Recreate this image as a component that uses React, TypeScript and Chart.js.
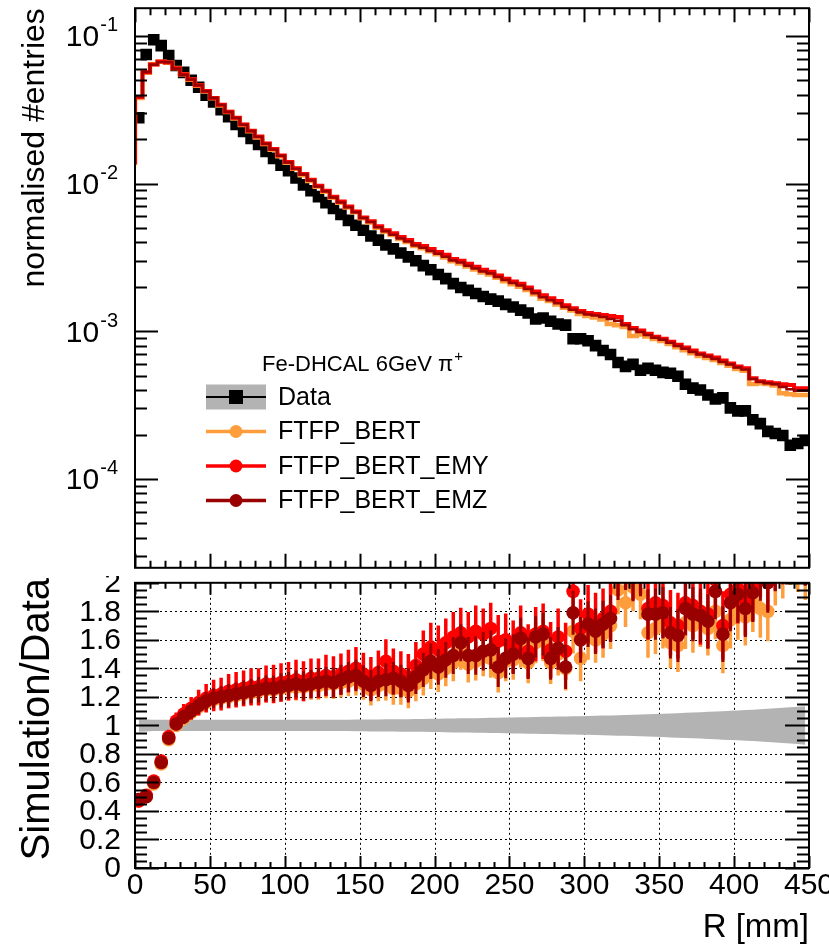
import React, { useEffect, useRef } from "react";
import { Chart, registerables } from "chart.js";
Chart.register(...registerables);

const FONT = '"Liberation Sans", Arial, Helvetica, sans-serif';
const ORANGE = "#fd9d3b";
const RED = "#ff0000";
const DARKRED = "#990000";
const GRAY = "#b3b3b3";

// ---------------- data ----------------
const BIN_WIDTH = 5; // mm
const R_MIN = 0;
const R_MAX = 450;

const dataValues = [
  2.79e-2, 7.47e-2, 9.4e-2, 8.58e-2, 7.35e-2, 6.3e-2, 5.66e-2, 5.0e-2, 4.49e-2, 3.97e-2,
  3.57e-2, 3.16e-2, 2.83e-2, 2.51e-2, 2.25e-2, 2.02e-2, 1.84e-2, 1.65e-2, 1.48e-2, 1.33e-2,
  1.22e-2, 1.09e-2, 9.8e-3, 8.94e-3, 8.15e-3, 7.43e-3, 6.78e-3, 6.18e-3, 5.63e-3, 5.22e-3,
  4.83e-3, 4.41e-3, 4.14e-3, 3.84e-3, 3.61e-3, 3.39e-3, 3.19e-3, 3.0e-3, 2.78e-3, 2.61e-3,
  2.42e-3, 2.27e-3, 2.1e-3, 1.98e-3, 1.89e-3, 1.8e-3, 1.72e-3, 1.65e-3, 1.6e-3, 1.52e-3,
  1.46e-3, 1.39e-3, 1.33e-3, 1.21e-3, 1.23e-3, 1.17e-3, 1.12e-3, 1.1e-3, 8.9e-4, 8.9e-4,
  8.63e-4, 7.99e-4, 7.4e-4, 6.96e-4, 6.15e-4, 5.78e-4, 5.97e-4, 5.44e-4, 5.61e-4, 5.44e-4,
  5.27e-4, 5.19e-4, 4.96e-4, 4.38e-4, 4.12e-4, 4.0e-4, 3.7e-4, 3.48e-4, 3.54e-4, 3.03e-4,
  2.89e-4, 2.89e-4, 2.52e-4, 2.37e-4, 2.1e-4, 2.03e-4, 1.97e-4, 1.69e-4, 1.74e-4, 1.82e-4,
];

const bertValues = [
  1.33e-2, 3.8e-2, 5.62e-2, 6.42e-2, 6.68e-2, 6.58e-2, 6.05e-2, 5.5e-2, 5.05e-2, 4.6e-2,
  4.2e-2, 3.78e-2, 3.38e-2, 3.05e-2, 2.76e-2, 2.49e-2, 2.26e-2, 2.05e-2, 1.85e-2, 1.69e-2,
  1.53e-2, 1.38e-2, 1.26e-2, 1.14e-2, 1.04e-2, 9.5e-3, 8.8e-3, 8.02e-3, 7.42e-3, 6.88e-3,
  6.38e-3, 5.82e-3, 5.44e-3, 5.02e-3, 4.72e-3, 4.48e-3, 4.22e-3, 4.02e-3, 3.78e-3, 3.64e-3,
  3.48e-3, 3.32e-3, 3.16e-3, 2.98e-3, 2.88e-3, 2.74e-3, 2.62e-3, 2.5e-3, 2.42e-3, 2.3e-3,
  2.18e-3, 2.08e-3, 2.0e-3, 1.9e-3, 1.78e-3, 1.66e-3, 1.6e-3, 1.52e-3, 1.44e-3, 1.38e-3,
  1.31e-3, 1.27e-3, 1.24e-3, 1.2e-3, 1.12e-3, 1.1e-3, 1.07e-3, 9.3e-4, 9.5e-4, 9.2e-4,
  8.85e-4, 8.6e-4, 8.2e-4, 7.8e-4, 7.45e-4, 7.1e-4, 6.8e-4, 6.6e-4, 6.4e-4, 6.1e-4,
  5.85e-4, 5.55e-4, 5.4e-4, 4.4e-4, 4.45e-4, 4.4e-4, 4.3e-4, 3.8e-4, 3.75e-4, 3.7e-4,
];

const emyValues = [
  1.35e-2, 3.85e-2, 5.66e-2, 6.4e-2, 6.7e-2, 6.6e-2, 6.02e-2, 5.49e-2, 5.08e-2, 4.63e-2,
  4.23e-2, 3.8e-2, 3.41e-2, 3.06e-2, 2.79e-2, 2.51e-2, 2.28e-2, 2.08e-2, 1.87e-2, 1.71e-2,
  1.55e-2, 1.4e-2, 1.27e-2, 1.16e-2, 1.06e-2, 9.65e-3, 8.94e-3, 8.15e-3, 7.55e-3, 6.99e-3,
  6.47e-3, 5.9e-3, 5.55e-3, 5.14e-3, 4.83e-3, 4.61e-3, 4.34e-3, 4.14e-3, 3.9e-3, 3.78e-3,
  3.61e-3, 3.44e-3, 3.29e-3, 3.09e-3, 3.0e-3, 2.86e-3, 2.73e-3, 2.61e-3, 2.53e-3, 2.38e-3,
  2.27e-3, 2.17e-3, 2.1e-3, 1.98e-3, 1.86e-3, 1.75e-3, 1.67e-3, 1.6e-3, 1.5e-3, 1.43e-3,
  1.37e-3, 1.33e-3, 1.31e-3, 1.29e-3, 1.27e-3, 1.25e-3, 1.12e-3, 1.05e-3, 1.01e-3, 9.61e-4,
  9.18e-4, 8.9e-4, 8.5e-4, 8.11e-4, 7.75e-4, 7.4e-4, 7.06e-4, 6.85e-4, 6.64e-4, 6.34e-4,
  6.06e-4, 5.78e-4, 5.61e-4, 4.81e-4, 4.59e-4, 4.52e-4, 4.45e-4, 4.38e-4, 4.32e-4, 4.12e-4,
];

const emzValues = [
  1.36e-2, 3.88e-2, 5.7e-2, 6.38e-2, 6.66e-2, 6.62e-2, 6.0e-2, 5.46e-2, 5.06e-2, 4.62e-2,
  4.22e-2, 3.79e-2, 3.4e-2, 3.05e-2, 2.78e-2, 2.5e-2, 2.27e-2, 2.07e-2, 1.86e-2, 1.7e-2,
  1.54e-2, 1.39e-2, 1.26e-2, 1.15e-2, 1.05e-2, 9.55e-3, 8.85e-3, 8.05e-3, 7.45e-3, 6.9e-3,
  6.4e-3, 5.85e-3, 5.48e-3, 5.05e-3, 4.75e-3, 4.5e-3, 4.25e-3, 4.05e-3, 3.8e-3, 3.67e-3,
  3.5e-3, 3.35e-3, 3.2e-3, 3.01e-3, 2.92e-3, 2.78e-3, 2.66e-3, 2.54e-3, 2.46e-3, 2.33e-3,
  2.22e-3, 2.12e-3, 2.04e-3, 1.93e-3, 1.81e-3, 1.7e-3, 1.62e-3, 1.55e-3, 1.46e-3, 1.4e-3,
  1.34e-3, 1.3e-3, 1.28e-3, 1.25e-3, 1.21e-3, 1.18e-3, 1.1e-3, 1.03e-3, 9.9e-4, 9.45e-4,
  9.05e-4, 8.75e-4, 8.35e-4, 7.95e-4, 7.6e-4, 7.25e-4, 6.95e-4, 6.75e-4, 6.5e-4, 6.2e-4,
  5.95e-4, 5.68e-4, 5.5e-4, 4.75e-4, 4.55e-4, 4.45e-4, 4.38e-4, 4.2e-4, 4.05e-4, 3.95e-4,
];

const ratioBert = [
  0.47, 0.5, 0.59, 0.73, 0.9, 1.0, 1.05, 1.09, 1.13, 1.16,
  1.18, 1.19, 1.2, 1.21, 1.22, 1.23, 1.24, 1.25, 1.25, 1.26,
  1.27, 1.27, 1.27, 1.28, 1.28, 1.29, 1.29, 1.3, 1.31, 1.32,
  1.29, 1.25, 1.28, 1.29, 1.26, 1.26, 1.24, 1.29, 1.33, 1.38,
  1.36, 1.4, 1.44, 1.52, 1.43, 1.45, 1.48, 1.47, 1.37, 1.45,
  1.46, 1.55, 1.44, 1.58, 1.6, 1.44, 1.5, 1.4, 1.66, 1.47,
  1.62, 1.6, 1.64, 1.7, 1.95, 1.86, 1.97, 1.92, 1.65, 1.68,
  1.72, 1.58, 1.56, 1.72, 1.7, 1.74, 1.68, 1.8, 1.56, 1.74,
  1.8, 1.76, 1.86, 1.82, 1.8, 2.05, 2.1, 2.2, 2.15, 2.1,
];

const ratioEmy = [
  0.47, 0.51, 0.61, 0.75, 0.92, 1.03, 1.08, 1.12, 1.16, 1.19,
  1.21, 1.22, 1.24, 1.25, 1.26, 1.27, 1.27, 1.29, 1.29, 1.3,
  1.31, 1.32, 1.31, 1.33, 1.33, 1.35, 1.34, 1.36, 1.38, 1.4,
  1.36, 1.33, 1.37, 1.45, 1.38, 1.36, 1.34, 1.42, 1.5, 1.55,
  1.53, 1.58, 1.62, 1.65, 1.62, 1.66, 1.64, 1.68, 1.59, 1.6,
  1.55, 1.65, 1.52, 1.64, 1.66, 1.53, 1.62, 1.52, 1.94, 1.68,
  1.78, 1.72, 1.75, 1.8, 2.12, 2.18, 2.1, 2.14, 1.82, 1.86,
  1.84, 1.72, 1.7, 1.86, 1.84, 1.8, 1.78, 2.02, 1.7, 1.92,
  1.96, 1.88, 1.98, 2.15, 2.06, 2.2, 2.25, 2.35, 2.3, 2.25,
];

const ratioEmz = [
  0.48, 0.5, 0.6, 0.74, 0.91, 1.01, 1.06, 1.1, 1.14, 1.17,
  1.19, 1.2, 1.21, 1.22, 1.23, 1.24, 1.25, 1.26, 1.26, 1.27,
  1.28, 1.29, 1.28, 1.29, 1.3, 1.31, 1.3, 1.32, 1.34, 1.35,
  1.31, 1.28, 1.31, 1.32, 1.33, 1.31, 1.28, 1.34, 1.39, 1.45,
  1.41, 1.46, 1.49, 1.58, 1.49, 1.49, 1.52, 1.53, 1.41, 1.47,
  1.5, 1.61, 1.47, 1.62, 1.64, 1.47, 1.54, 1.41, 1.79, 1.6,
  1.71, 1.66, 1.71, 1.75, 2.05, 2.12, 2.04, 2.08, 1.78, 1.78,
  1.79, 1.65, 1.63, 1.82, 1.78, 1.77, 1.73, 1.94, 1.64, 1.86,
  1.92, 1.82, 1.93, 2.08, 2.0, 2.15, 2.2, 2.3, 2.25, 2.2,
];

const ratioErrEmy = [
  0.02, 0.02, 0.025, 0.035, 0.05, 0.06, 0.07, 0.08, 0.09, 0.1,
  0.11, 0.115, 0.12, 0.125, 0.125, 0.13, 0.13, 0.13, 0.135, 0.135,
  0.135, 0.14, 0.14, 0.14, 0.14, 0.145, 0.145, 0.145, 0.15, 0.15,
  0.15, 0.15, 0.155, 0.155, 0.16, 0.16, 0.16, 0.165, 0.165, 0.17,
  0.17, 0.17, 0.175, 0.175, 0.175, 0.18, 0.18, 0.18, 0.185, 0.185,
  0.185, 0.19, 0.19, 0.19, 0.195, 0.195, 0.2, 0.2, 0.2, 0.205,
  0.205, 0.21, 0.21, 0.21, 0.215, 0.215, 0.22, 0.22, 0.22, 0.225,
  0.225, 0.23, 0.23, 0.23, 0.235, 0.235, 0.24, 0.24, 0.24, 0.245,
  0.245, 0.25, 0.25, 0.25, 0.255, 0.255, 0.26, 0.26, 0.26, 0.265,
];

const ratioErrOther = [
  0.015, 0.015, 0.02, 0.025, 0.035, 0.045, 0.05, 0.055, 0.06, 0.065,
  0.07, 0.075, 0.08, 0.08, 0.085, 0.085, 0.09, 0.09, 0.09, 0.095,
  0.095, 0.095, 0.1, 0.1, 0.1, 0.1, 0.105, 0.105, 0.105, 0.11,
  0.11, 0.11, 0.11, 0.115, 0.115, 0.115, 0.12, 0.12, 0.12, 0.125,
  0.125, 0.125, 0.13, 0.13, 0.13, 0.135, 0.135, 0.135, 0.14, 0.14,
  0.14, 0.145, 0.145, 0.145, 0.15, 0.15, 0.15, 0.155, 0.155, 0.16,
  0.16, 0.16, 0.165, 0.165, 0.17, 0.17, 0.17, 0.175, 0.175, 0.18,
  0.18, 0.18, 0.185, 0.185, 0.19, 0.19, 0.19, 0.195, 0.195, 0.2,
  0.2, 0.2, 0.205, 0.205, 0.21, 0.21, 0.21, 0.215, 0.215, 0.22,
];

const dataRelErr = [
  0.045, 0.042, 0.04, 0.04, 0.04, 0.04, 0.04, 0.04, 0.04, 0.04,
  0.04, 0.04, 0.04, 0.04, 0.04, 0.04, 0.04, 0.04, 0.04, 0.04,
  0.04, 0.04, 0.04, 0.04, 0.04, 0.04, 0.04, 0.04, 0.04, 0.041,
  0.041, 0.042, 0.042, 0.043, 0.043, 0.044, 0.044, 0.045, 0.045, 0.046,
  0.047, 0.048, 0.049, 0.05, 0.05, 0.051, 0.052, 0.053, 0.054, 0.055,
  0.056, 0.057, 0.058, 0.059, 0.06, 0.061, 0.062, 0.063, 0.064, 0.065,
  0.066, 0.067, 0.069, 0.07, 0.072, 0.073, 0.075, 0.076, 0.078, 0.08,
  0.082, 0.084, 0.086, 0.088, 0.09, 0.092, 0.095, 0.097, 0.1, 0.102,
  0.105, 0.108, 0.11, 0.113, 0.116, 0.12, 0.123, 0.127, 0.131, 0.135,
];

const xTickValues = [0, 50, 100, 150, 200, 250, 300, 350, 400, 450];
const xTickLabels = ["0", "50", "100", "150", "200", "250", "300", "350", "400", "450"];
const logTickValues = [1e-4, 1e-3, 1e-2, 1e-1];
const logTickExponents = ["-4", "-3", "-2", "-1"];
const ratioTickValues = [0, 0.2, 0.4, 0.6, 0.8, 1, 1.2, 1.4, 1.6, 1.8, 2];
const ratioTickLabels = ["0", "0.2", "0.4", "0.6", "0.8", "1", "1.2", "1.4", "1.6", "1.8", "2"];

const LOG_MIN = 2.504e-5;
const LOG_MAX = 0.1538;

// ---------------- helpers ----------------
const binLow = dataValues.map((_, i) => R_MIN + i * BIN_WIDTH);
const binCenter = binLow.map((v) => v + BIN_WIDTH / 2);
const stepSeries = (vals: number[]) => [
  ...vals.map((v, i) => ({ x: binLow[i], y: v })),
  { x: binLow[vals.length - 1] + BIN_WIDTH, y: vals[vals.length - 1] },
];
const pointSeries = (vals: number[]) => vals.map((v, i) => ({ x: binCenter[i], y: v }));

function drawXTicks(ctx: CanvasRenderingContext2D, chart: any, major: number, minor: number) {
  const a = chart.chartArea;
  const x = chart.scales.x;
  ctx.beginPath();
  for (let v = R_MIN; v <= R_MAX + 1e-6; v += 10) {
    const px = Math.round(x.getPixelForValue(v)) + 0.5;
    const len = v % 50 === 0 ? major : minor;
    ctx.moveTo(px, a.bottom);
    ctx.lineTo(px, a.bottom - len);
    ctx.moveTo(px, a.top);
    ctx.lineTo(px, a.top + len);
  }
  ctx.stroke();
}

function drawYTicks(ctx: CanvasRenderingContext2D, chart: any, vals: { v: number; major: boolean }[], major: number, minor: number) {
  const a = chart.chartArea;
  const y = chart.scales.y;
  ctx.beginPath();
  vals.forEach(({ v, major: isMajor }) => {
    const py = Math.round(y.getPixelForValue(v)) + 0.5;
    if (py < a.top - 0.5 || py > a.bottom + 0.5) return;
    const len = isMajor ? major : minor;
    ctx.moveTo(a.left, py);
    ctx.lineTo(a.left + len, py);
    ctx.moveTo(a.right, py);
    ctx.lineTo(a.right - len, py);
  });
  ctx.stroke();
}

function drawFrame(ctx: CanvasRenderingContext2D, chart: any) {
  const a = chart.chartArea;
  ctx.strokeRect(a.left, a.top, a.right - a.left, a.bottom - a.top);
}

const errorBarPlugin = {
  id: "errorBars",
  beforeDatasetDraw(chart: any, args: any) {
    const ds = chart.data.datasets[args.index];
    if (!ds.errors) return;
    const { ctx, chartArea: a } = chart;
    const y = chart.scales.y;
    ctx.save();
    ctx.beginPath();
    ctx.rect(a.left, a.top, a.right - a.left, a.bottom - a.top);
    ctx.clip();
    ctx.strokeStyle = ds.errorColor;
    ctx.lineWidth = ds.errorWidth;
    args.meta.data.forEach((pt: any, i: number) => {
      const v = ds.data[i].y;
      const e = ds.errors[i];
      ctx.beginPath();
      ctx.moveTo(pt.x, y.getPixelForValue(v - e));
      ctx.lineTo(pt.x, y.getPixelForValue(v + e));
      ctx.stroke();
    });
    ctx.restore();
  },
};

const topDecor = {
  id: "topDecor",
  afterDraw(chart: any) {
    const { ctx, chartArea: a } = chart;
    const y = chart.scales.y;
    ctx.save();
    ctx.strokeStyle = "#000";
    ctx.lineWidth = 2;
    drawXTicks(ctx, chart, 14, 7);
    const logTicks: { v: number; major: boolean }[] = [];
    for (let e = -5; e <= 0; e++) {
      for (let k = 1; k <= 9; k++) {
        const v = k * Math.pow(10, e);
        if (v >= LOG_MIN && v <= LOG_MAX) logTicks.push({ v, major: k === 1 });
      }
    }
    drawYTicks(ctx, chart, logTicks, 23, 12);
    drawFrame(ctx, chart);

    // tick labels 10^n
    ctx.fillStyle = "#000";
    ctx.textBaseline = "middle";
    logTickValues.forEach((v, i) => {
      const py = y.getPixelForValue(v);
      ctx.font = `20px ${FONT}`;
      const we = ctx.measureText(logTickExponents[i]).width;
      ctx.font = `30px ${FONT}`;
      const wb = ctx.measureText("10").width;
      const right = 118;
      ctx.textAlign = "left";
      ctx.fillText("10", right - we - wb - 1, py + 2);
      ctx.font = `20px ${FONT}`;
      ctx.fillText(logTickExponents[i], right - we, py - 10);
    });

    // y title
    ctx.save();
    ctx.translate(44, a.top);
    ctx.rotate(-Math.PI / 2);
    ctx.font = `32px ${FONT}`;
    ctx.textAlign = "right";
    ctx.textBaseline = "alphabetic";
    ctx.fillText("normalised #entries", 0, 0);
    ctx.restore();

    // legend
    ctx.textAlign = "left";
    ctx.textBaseline = "middle";
    ctx.font = `22px ${FONT}`;
    const header = "Fe-DHCAL 6GeV \u03c0";
    ctx.fillText(header, 262, 365);
    const hw = ctx.measureText(header).width;
    ctx.font = `15px ${FONT}`;
    ctx.fillText("+", 262 + hw + 1, 357);

    const lx0 = 206;
    const lx1 = 266;
    const lxm = 236;
    const rows = [
      { label: "Data", y: 397, color: "#000", kind: "data" },
      { label: "FTFP_BERT", y: 431.5, color: ORANGE, kind: "sim" },
      { label: "FTFP_BERT_EMY", y: 466, color: RED, kind: "sim" },
      { label: "FTFP_BERT_EMZ", y: 500.5, color: DARKRED, kind: "sim" },
    ];
    rows.forEach((r) => {
      if (r.kind === "data") {
        ctx.fillStyle = GRAY;
        ctx.fillRect(lx0, r.y - 12.5, lx1 - lx0, 25);
        ctx.strokeStyle = "#000";
        ctx.lineWidth = 2;
        ctx.beginPath();
        ctx.moveTo(lx0, r.y);
        ctx.lineTo(lx1, r.y);
        ctx.stroke();
        ctx.fillStyle = "#000";
        ctx.fillRect(lxm - 7, r.y - 7, 14, 14);
      } else {
        ctx.strokeStyle = r.color;
        ctx.lineWidth = 3.5;
        ctx.beginPath();
        ctx.moveTo(lx0, r.y);
        ctx.lineTo(lx1, r.y);
        ctx.stroke();
        ctx.fillStyle = r.color;
        ctx.beginPath();
        ctx.arc(lxm, r.y, 6.5, 0, Math.PI * 2);
        ctx.fill();
      }
      ctx.fillStyle = "#000";
      ctx.font = `25px ${FONT}`;
      ctx.fillText(r.label, 278, r.y + 1);
    });
    ctx.restore();
  },
};

const bottomDecor = {
  id: "bottomDecor",
  beforeDraw(chart: any) {
    const { ctx, chartArea: a } = chart;
    const x = chart.scales.x;
    const y = chart.scales.y;
    ctx.save();
    ctx.strokeStyle = "#000";
    ctx.lineWidth = 1;
    ctx.setLineDash([2, 3]);
    ctx.beginPath();
    xTickValues.forEach((v) => {
      if (v <= R_MIN || v >= R_MAX) return;
      const px = Math.round(x.getPixelForValue(v)) + 0.5;
      ctx.moveTo(px, a.top);
      ctx.lineTo(px, a.bottom);
    });
    ratioTickValues.forEach((v) => {
      if (v <= 0 || v >= 2) return;
      const py = Math.round(y.getPixelForValue(v)) + 0.5;
      ctx.moveTo(a.left, py);
      ctx.lineTo(a.right, py);
    });
    ctx.stroke();
    ctx.restore();
  },
  afterDraw(chart: any) {
    const { ctx, chartArea: a } = chart;
    const x = chart.scales.x;
    const y = chart.scales.y;
    ctx.save();
    ctx.strokeStyle = "#000";
    ctx.lineWidth = 2;
    drawXTicks(ctx, chart, 12, 6);
    const rt: { v: number; major: boolean }[] = [];
    for (let i = 0; i <= 40; i++) rt.push({ v: i * 0.05, major: i % 4 === 0 });
    drawYTicks(ctx, chart, rt, 24, 12);
    drawFrame(ctx, chart);

    ctx.fillStyle = "#000";
    ctx.font = `30px ${FONT}`;
    ctx.textBaseline = "middle";
    ctx.textAlign = "right";
    ratioTickValues.forEach((v, i) => {
      ctx.fillText(ratioTickLabels[i], 121, y.getPixelForValue(v) + 1);
    });
    ctx.textAlign = "center";
    xTickValues.forEach((v, i) => {
      ctx.fillText(xTickLabels[i], x.getPixelForValue(v), a.bottom + 18);
    });
    ctx.font = `33px ${FONT}`;
    ctx.textAlign = "right";
    ctx.fillText("R [mm]", a.right, a.bottom + 60);

    ctx.save();
    ctx.translate(49, 2);
    ctx.rotate(-Math.PI / 2);
    ctx.textAlign = "right";
    ctx.textBaseline = "alphabetic";
    ctx.font = `40px ${FONT}`;
    ctx.fillText("Simulation/Data", 0, 0);
    ctx.restore();
    ctx.restore();
  },
};

export default function App() {
  const topRef = useRef<HTMLCanvasElement | null>(null);
  const botRef = useRef<HTMLCanvasElement | null>(null);

  useEffect(() => {
    const top = new Chart(topRef.current as HTMLCanvasElement, {
      type: "line",
      data: {
        datasets: [
          { label: "FTFP_BERT_EMZ", data: stepSeries(emzValues), borderColor: DARKRED, borderWidth: 2.5, stepped: "after", pointRadius: 0, fill: false },
          { label: "FTFP_BERT_EMY", data: stepSeries(emyValues), borderColor: RED, borderWidth: 4, stepped: "after", pointRadius: 0, fill: false },
          { label: "FTFP_BERT", data: stepSeries(bertValues), borderColor: ORANGE, borderWidth: 4.5, stepped: "after", pointRadius: 0, fill: false },
          { label: "Data", data: pointSeries(dataValues), showLine: false, pointStyle: "rect", pointRadius: 8.2, pointBackgroundColor: "#000", pointBorderWidth: 0, borderColor: "#000", backgroundColor: "#000" },
        ] as any,
      },
      options: {
        animation: false,
        responsive: false,
        maintainAspectRatio: false,
        events: [],
        layout: { padding: { left: 135, right: 20, top: 5, bottom: 4 } },
        scales: {
          x: { type: "linear", min: R_MIN, max: R_MAX, display: false },
          y: { type: "logarithmic", min: LOG_MIN, max: LOG_MAX, display: false },
        },
        plugins: { legend: { display: false }, tooltip: { enabled: false } },
      } as any,
      plugins: [topDecor],
    });

    const bandUpper = dataRelErr.map((e, i) => ({ x: binCenter[i], y: 1 + e }));
    const bandLower = dataRelErr.map((e, i) => ({ x: binCenter[i], y: 1 - e }));
    const pt = (vals: number[], color: string, errs: number[], ew: number, label: string) => ({
      label,
      data: pointSeries(vals),
      showLine: false,
      pointRadius: 6.8,
      pointBorderWidth: 0,
      pointBackgroundColor: color,
      backgroundColor: color,
      borderColor: color,
      errors: errs,
      errorColor: color,
      errorWidth: ew,
    });

    const bot = new Chart(botRef.current as HTMLCanvasElement, {
      type: "line",
      data: {
        datasets: [
          pt(ratioEmz, DARKRED, ratioErrOther, 3, "FTFP_BERT_EMZ"),
          pt(ratioEmy, RED, ratioErrEmy, 3.5, "FTFP_BERT_EMY"),
          pt(ratioBert, ORANGE, ratioErrOther, 3.5, "FTFP_BERT"),
          { label: "band+", data: bandUpper, borderWidth: 0, pointRadius: 0, fill: false, borderColor: "rgba(0,0,0,0)" },
          { label: "band-", data: bandLower, borderWidth: 0, pointRadius: 0, fill: "-1", backgroundColor: GRAY, borderColor: "rgba(0,0,0,0)" },
        ] as any,
      },
      options: {
        animation: false,
        responsive: false,
        maintainAspectRatio: false,
        events: [],
        layout: { padding: { left: 135, right: 20, top: 6, bottom: 78 } },
        scales: {
          x: { type: "linear", min: R_MIN, max: R_MAX, display: false },
          y: { type: "linear", min: 0, max: 2, display: false },
        },
        plugins: { legend: { display: false }, tooltip: { enabled: false }, filler: { propagate: false } },
      } as any,
      plugins: [bottomDecor, errorBarPlugin],
    });

    return () => {
      top.destroy();
      bot.destroy();
    };
  }, []);

  return (
    <div style={{ position: "absolute", left: 0, top: 0, width: 829, height: 946, background: "#fff", overflow: "hidden" }}>
      <canvas ref={topRef} width={829} height={576} style={{ position: "absolute", left: 0, top: 0, width: 829, height: 576 }} />
      <canvas ref={botRef} width={829} height={370} style={{ position: "absolute", left: 0, top: 576, width: 829, height: 370 }} />
    </div>
  );
}
